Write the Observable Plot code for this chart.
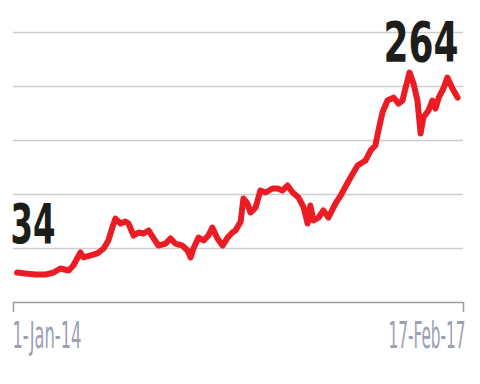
<!DOCTYPE html>
<html>
<head>
<meta charset="utf-8">
<script src="https://cdn.jsdelivr.net/npm/d3@7"></script>
<script src="https://cdn.jsdelivr.net/npm/@observablehq/plot@0.6"></script>
<style>
  html, body { margin: 0; padding: 0; background: #fff; }
</style>
</head>
<body>
<div id="chart"></div>
<script>
// ---- data ----
const dates = [
  "2014-01-10","2014-01-31","2014-02-26","2014-03-23","2014-04-13","2014-04-30","2014-05-21","2014-06-02",
  "2014-06-20","2014-06-28","2014-07-16","2014-08-02","2014-08-18","2014-08-30","2014-09-09","2014-09-17",
  "2014-09-30","2014-10-12","2014-10-20","2014-11-02","2014-11-15","2014-11-27","2014-12-10","2014-12-23",
  "2015-01-04","2015-01-22","2015-02-04","2015-02-16","2015-03-06","2015-03-19","2015-03-27","2015-04-03",
  "2015-04-16","2015-04-29","2015-05-11","2015-05-21","2015-06-03","2015-06-16","2015-06-29","2015-07-11",
  "2015-07-19","2015-08-01","2015-08-08","2015-08-18","2015-08-26","2015-09-08","2015-09-20","2015-10-03",
  "2015-10-21","2015-11-03","2015-11-15","2015-11-28","2015-12-11","2015-12-26","2016-01-08","2016-01-18",
  "2016-01-25","2016-02-02","2016-02-15","2016-02-27","2016-03-11","2016-03-29","2016-04-11","2016-05-06",
  "2016-05-24","2016-06-13","2016-06-26","2016-07-08","2016-07-16","2016-07-26","2016-08-08","2016-08-23",
  "2016-09-05","2016-09-15","2016-09-23","2016-10-03","2016-10-13","2016-10-23","2016-10-31","2016-11-07",
  "2016-11-20","2016-11-30","2016-12-08","2016-12-16","2016-12-28","2017-01-07","2017-01-20","2017-02-02"
];
const values = [
  34.4, 33.3, 32.1, 32.1, 34.4, 39.0, 36.7, 42.5,
  57.4, 51.7, 54.0, 56.3, 62.0, 71.2, 86.1, 96.4,
  90.7, 93.0, 90.7, 76.9, 80.4, 79.2, 82.7, 73.5,
  65.4, 67.7, 73.5, 67.7, 65.4, 59.7, 51.7, 62.0,
  74.6, 71.2, 76.9, 86.1, 73.5, 65.4, 74.6, 80.4,
  82.7, 93.0, 119.4, 113.7, 103.3, 109.1, 128.6, 126.3,
  130.9, 130.9, 128.6, 134.3, 126.3, 120.5, 109.1, 90.7,
  111.4, 94.1, 97.6, 105.6, 97.6, 113.7, 122.8, 143.5,
  157.3, 163.0, 174.5, 180.2, 197.5, 218.1, 231.9, 235.3,
  228.5, 231.9, 246.8, 264.0, 251.4, 231.9, 194.0, 212.4,
  220.4, 231.9, 222.7, 235.3, 245.7, 258.3, 245.7, 235.3
];
const xDomain = ["2014-01-01", "2017-02-17"];
const xTickLabels = ["1-Jan-14", "17-Feb-17"];
const gridValues = [62, 124, 186, 248, 310];
const calloutLabels = ["34", "264"];
const calloutValues = [88, 298];

// ---- build ----
const parse = d3.utcParse("%Y-%m-%d");
const series = dates.map((d, i) => ({date: parse(d), value: values[i]}));
const xd = xDomain.map(parse);

const fontFam = "'DejaVu Sans Condensed', 'DejaVu Sans', sans-serif";

const chart = Plot.plot({
  width: 480,
  height: 384,
  marginLeft: 13,
  marginRight: 17,
  marginTop: 32,
  marginBottom: 82,
  style: {background: "#fff", fontFamily: fontFam},
  x: {type: "utc", domain: xd, axis: null},
  y: {domain: [0, 310], axis: null},
  marks: [
    Plot.ruleY(gridValues, {stroke: "#cdcdcd", strokeWidth: 1.4}),
    Plot.ruleY([0], {stroke: "#9c9c9c", strokeWidth: 1.5}),
    Plot.axisX({ticks: xd, tickSize: 10, tickFormat: () => "", stroke: "#9c9c9c", strokeWidth: 1.5, strokeOpacity: 1}),
    Plot.line(series, {x: "date", y: "value", stroke: "#ec1c24", strokeWidth: 6,
      strokeLinejoin: "round", strokeLinecap: "round"}),
    Plot.text([0], {x: () => xd[0], y: 0, text: () => xTickLabels[0], textAnchor: "start", dx: -1, dy: 34,
      fontSize: 37, fill: "#9ca0b5", className: "xlab0"}),
    Plot.text([0], {x: () => xd[1], y: 0, text: () => xTickLabels[1], textAnchor: "end", dx: 2, dy: 34,
      fontSize: 37, fill: "#9ca0b5", className: "xlab1"}),
    Plot.text([0], {x: () => xd[0], y: () => calloutValues[0], text: () => calloutLabels[0], textAnchor: "start", dx: -3,
      fontSize: 55, fontWeight: "bold", fill: "#1d1d1b", className: "num0"}),
    Plot.text([0], {x: () => xd[1], y: () => calloutValues[1], text: () => calloutLabels[1], textAnchor: "end", dx: -5,
      fontSize: 55, fontWeight: "bold", fill: "#1d1d1b", className: "num1"})
  ]
});

document.getElementById("chart").appendChild(chart);

// condensed lettering like the reference: compress each label horizontally about its anchor
const textFit = {xlab0: [69, "start"], xlab1: [77, "end"], num0: [45, "start"], num1: [75, "end"]};
const svg = d3.select(chart);
Object.entries(textFit).forEach(([cls, [w, anchor]]) => {
  svg.selectAll("." + cls + " text").each(function() {
    const b = this.getBBox();
    const sx = w / b.width;
    const ax = anchor === "start" ? b.x : b.x + b.width;
    const t = this.getAttribute("transform") || "";
    this.setAttribute("transform", `${t} translate(${ax},0) scale(${sx},1) translate(${-ax},0)`.trim());
  });
});
</script>
</body>
</html>
